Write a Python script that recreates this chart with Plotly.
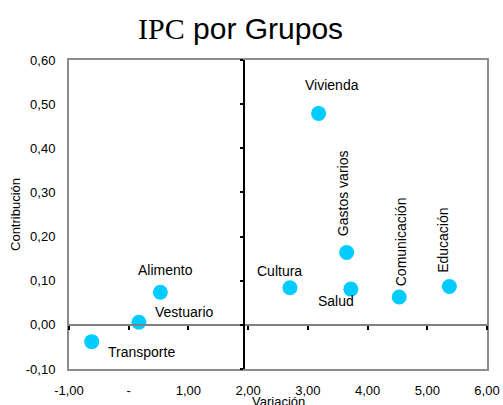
import plotly.graph_objects as go

# ---- data ----
groups = ["Transporte", "Vestuario", "Alimento", "Cultura", "Vivienda",
          "Gastos varios", "Salud", "Comunicación", "Educación"]
variacion = [-0.62, 0.17, 0.53, 2.70, 3.18, 3.65, 3.72, 4.53, 5.37]
contribucion = [-0.038, 0.006, 0.074, 0.084, 0.479, 0.164, 0.081, 0.063, 0.087]

x_tickvals = [-1, 0, 1, 2, 3, 4, 5, 6]
x_ticktext = ["-1,00", "-", "1,00", "2,00", "3,00", "4,00", "5,00", "6,00"]
y_tickvals = [-0.1, 0.0, 0.1, 0.2, 0.3, 0.4, 0.5, 0.6]
y_ticktext = ["-0,10", "0,00", "0,10", "0,20", "0,30", "0,40", "0,50", "0,60"]
x_range = [-1, 6]
y_range = [-0.1, 0.6]
y_axis_cross = 1.93   # value of Variación where the vertical axis crosses
x_axis_cross = 0.0    # value of Contribución where the horizontal axis crosses

# label placement (pixel offsets, angle)
label_style = {
    "Transporte":    (50, -10, 0),
    "Vestuario":     (46, 10, 0),
    "Alimento":      (5, 22, 0),
    "Cultura":       (-10, 17, 0),
    "Vivienda":      (13, 28, 0),
    "Gastos varios": (-3, 59, -90),
    "Salud":         (-15, -12, 0),
    "Comunicación":  (2, 55, -90),
    "Educación":     (-6, 46, -90),
}

FONT = "Liberation Sans, Arial, sans-serif"
CYAN = "#00CCFF"

fig = go.Figure()
# invisible trace that anchors the crossing axes (x2 / y2)
fig.add_trace(go.Scatter(
    x=variacion, y=contribucion, xaxis="x2", yaxis="y2", mode="markers",
    marker=dict(size=1, opacity=0), showlegend=False, hoverinfo="skip"))
fig.add_trace(go.Scatter(
    x=variacion, y=contribucion, mode="markers",
    marker=dict(size=15, color=CYAN, line=dict(width=0)),
    showlegend=False, hoverinfo="skip"))

for g, xv, yv in zip(groups, variacion, contribucion):
    dx, dy, ang = label_style[g]
    fig.add_annotation(x=xv, y=yv, text=g, showarrow=False,
                       xshift=dx, yshift=dy, textangle=ang,
                       font=dict(family=FONT, size=14, color="#000000"))

xpos = (y_axis_cross - x_range[0]) / (x_range[1] - x_range[0])
ypos = (x_axis_cross - y_range[0]) / (y_range[1] - y_range[0])

fig.update_layout(
    width=503, height=405,
    margin=dict(l=69, r=16, t=60, b=36, autoexpand=False),
    paper_bgcolor="white", plot_bgcolor="white",
    title=dict(
        text='<span style="font-family:Liberation Serif">IPC</span> por Grupos',
        x=138 / 503, xanchor="left", y=1 - 28 / 405, yanchor="middle",
        font=dict(family=FONT, size=30, color="#000000")),
    font=dict(family=FONT, size=13, color="#000000"),
    xaxis=dict(range=x_range, tickvals=x_tickvals, ticktext=x_ticktext,
               showgrid=False, zeroline=False, showline=True, mirror=True,
               linecolor="#8c8c8c", linewidth=2, ticks="", automargin=False,
               ticklabelstandoff=8, tickfont=dict(size=13)),
    yaxis=dict(range=y_range, tickvals=y_tickvals, ticktext=y_ticktext,
               showgrid=False, zeroline=False, showline=True, mirror=True,
               linecolor="#8c8c8c", linewidth=2, ticks="", automargin=False,
               ticklabelstandoff=9, tickfont=dict(size=13),
               title=dict(text="Contribución", standoff=2,
                          font=dict(size=13))),
    xaxis2=dict(overlaying="x", anchor="free", position=ypos,
                side="bottom", range=x_range, tickvals=x_tickvals,
                showticklabels=False, showgrid=False, zeroline=False,
                showline=True, linecolor="#808080", linewidth=2,
                automargin=False, ticks="outside", ticklen=4,
                tickwidth=2, tickcolor="#000000"),
    yaxis2=dict(overlaying="y", anchor="free", position=xpos,
                side="left", range=y_range, tickvals=y_tickvals,
                showticklabels=False, showgrid=False, zeroline=False,
                showline=True, linecolor="#000000", linewidth=2,
                automargin=False, ticks="outside", ticklen=3,
                tickwidth=1.5, tickcolor="#000000"),
)

fig.add_annotation(text="Variación", xref="paper", yref="paper",
                   x=0.5, y=(369 - 401) / 309, yanchor="middle",
                   showarrow=False, font=dict(family=FONT, size=13))

fig.write_html("out.html", config={"displayModeBar": False},
               post_script="document.body.style.margin='0';")
